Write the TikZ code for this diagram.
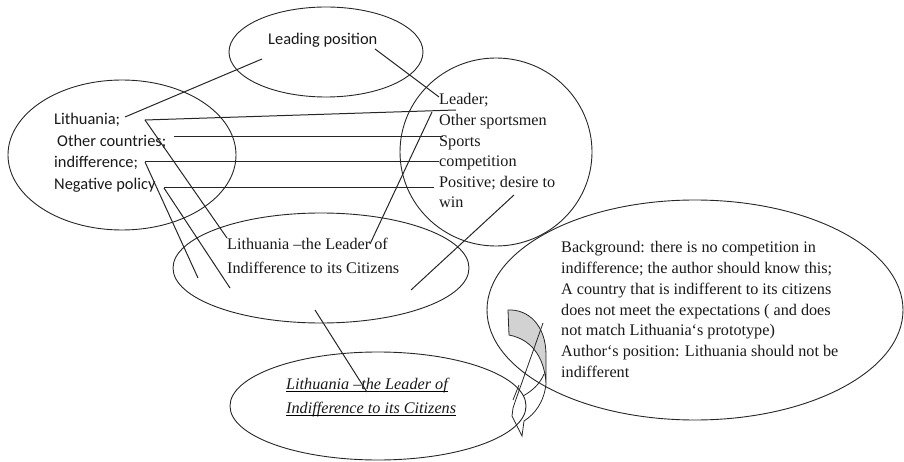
\documentclass[tikz,border=0pt]{standalone}
\usepackage{fontspec}
\setmainfont{Liberation Serif}
\newfontfamily\carlito{Carlito}
\usetikzlibrary{shapes.geometric}
\begin{document}
\begin{tikzpicture}[x=1pt,y=-1pt,
  oval/.style={draw=black!85, line width=0.9pt, ellipse, inner sep=0pt},
  link/.style={draw=black!85, line width=1pt},
  sanstxt/.style={font=\carlito\fontsize{16.4}{19}\selectfont, inner sep=0pt, anchor=base west, text=black!90},
  seriftxt/.style={font=\fontsize{16.2}{20}\selectfont, inner sep=0pt, anchor=base west, text=black!90},
  itxt/.style={font=\fontsize{16.2}{20}\selectfont\itshape, inner sep=0pt, anchor=base west, text=black!90},
  arrowband/.style={draw=black!85, line width=0.8pt}]
\useasboundingbox (0,0) rectangle (904,462);

% ellipses
\node[oval, minimum width=194pt, minimum height=90pt] (eTop) at (326,52) {};
\node[oval, minimum width=228pt, minimum height=150pt] (eLeft) at (122,155) {};
\node[oval, minimum width=192pt, minimum height=188pt] (eRight) at (496,152) {};
\node[oval, minimum width=296pt, minimum height=110pt] (eMid) at (321,268) {};
\node[oval, minimum width=296pt, minimum height=108pt] (eBot) at (378,406) {};
\node[oval, minimum width=416pt, minimum height=220pt] (eBig) at (695,310) {};

% texts
\node[sanstxt] (tLead) at (268,45) {Leading position};
\node[sanstxt] (tLith) at (54,125) {Lithuania;};
\node[sanstxt] (tOther) at (57,147) {Other countries;};
\node[sanstxt] (tIndif) at (54,168) {indifference;};
\node[sanstxt] (tNeg) at (54,190) {Negative policy};

\node[seriftxt] (rLeader) at (439,105) {Leader;};
\node[seriftxt] (rOther) at (439,125.6) {Other sportsmen};
\node[seriftxt] (rSports) at (439,146.2) {Sports};
\node[seriftxt] (rComp) at (439,166.8) {competition};
\node[seriftxt] (rPos) at (439,187.4) {Positive; desire to};
\node[seriftxt] (rWin) at (439,208) {win};

\node[seriftxt] (m1) at (227,250) {Lithuania –the Leader of};
\node[seriftxt] (m2) at (227,273) {Indifference to its Citizens};

\node[itxt] (u1) at (286,389) {Lithuania –the Leader of};
\node[itxt] (u2) at (286,413) {Indifference to its Citizens};
\draw[line width=0.9pt] ([yshift=-2pt]u1.base west) -- ([yshift=-2pt]u1.base east);
\draw[line width=0.9pt] ([yshift=-2pt]u2.base west) -- ([yshift=-2pt]u2.base east);

\node[seriftxt] (b1) at (561,253) {Background: there is no competition in};
\node[seriftxt] (b2) at (561,273.7) {indifference; the author should know this;};
\node[seriftxt] (b3) at (561,294.4) {A country that is indifferent to its citizens};
\node[seriftxt] (b4) at (561,315.1) {does not meet the expectations ( and does};
\node[seriftxt] (b5) at (561,335.8) {not match Lithuania‘s prototype)};
\node[seriftxt] (b6) at (561,356.5) {Author‘s position: Lithuania should not be};
\node[seriftxt] (b7) at (561,377.2) {indifferent};

% connector end points
\coordinate (pLithA) at (125,117);
\coordinate (pLeadA) at (262,59);
\coordinate (pLeadB) at (375,49);
\coordinate (pLeaderA) at (439,97);
\coordinate (pLithB) at (145,120);
\coordinate (pLeaderB) at (456,110);
\coordinate (pMidL) at (227,238);
\coordinate (pOther) at (174,137);
\coordinate (pSports) at (443,137);
\coordinate (pIndif) at (145,162);
\coordinate (pComp) at (439,162);
\coordinate (pMidA) at (198,278);
\coordinate (pNeg) at (164,188);
\coordinate (pPos) at (434,188);
\coordinate (pMidB) at (230,288);
\coordinate (pLeaderC) at (432,112);
\coordinate (pMidC) at (370,244);
\coordinate (pDesire) at (514,195);
\coordinate (pMidD) at (411,290);
\coordinate (pMidE) at (315,310);
\coordinate (pBotA) at (367,392);

\draw[link] (pLithA) -- (pLeadA);
\draw[link] (pLeadB) -- (pLeaderA);
\draw[link] (pLithB) -- (pLeaderB);
\draw[link] (pLithB) -- (pMidL);
\draw[link] (pOther) -- (pSports);
\draw[link] (pIndif) -- (pComp);
\draw[link] (pIndif) -- (pMidA);
\draw[link] (pNeg) -- (pPos);
\draw[link] (pNeg) -- (pMidB);
\draw[link] (pLeaderC) -- (pMidC);
\draw[link] (pDesire) -- (pMidD);
\draw[link] (pMidE) -- (pBotA);

% curved block arrow
\path[arrowband, fill=gray!35] (508,310) .. controls (528,309) and (546,325) .. (546,355) -- (546,384)
  .. controls (545,362) and (535,340) .. (509,335) -- cycle;
\draw[arrowband] (546,384) .. controls (544,402) and (535,414) .. (524,421) -- (522,436) -- (512,416) -- (513,408) -- (515,402) -- (543,323);
\draw[arrowband] (513,400) -- (519,385);
\draw[arrowband] (523,396) .. controls (532,391) and (540,384) .. (544,374);
\end{tikzpicture}
\end{document}
